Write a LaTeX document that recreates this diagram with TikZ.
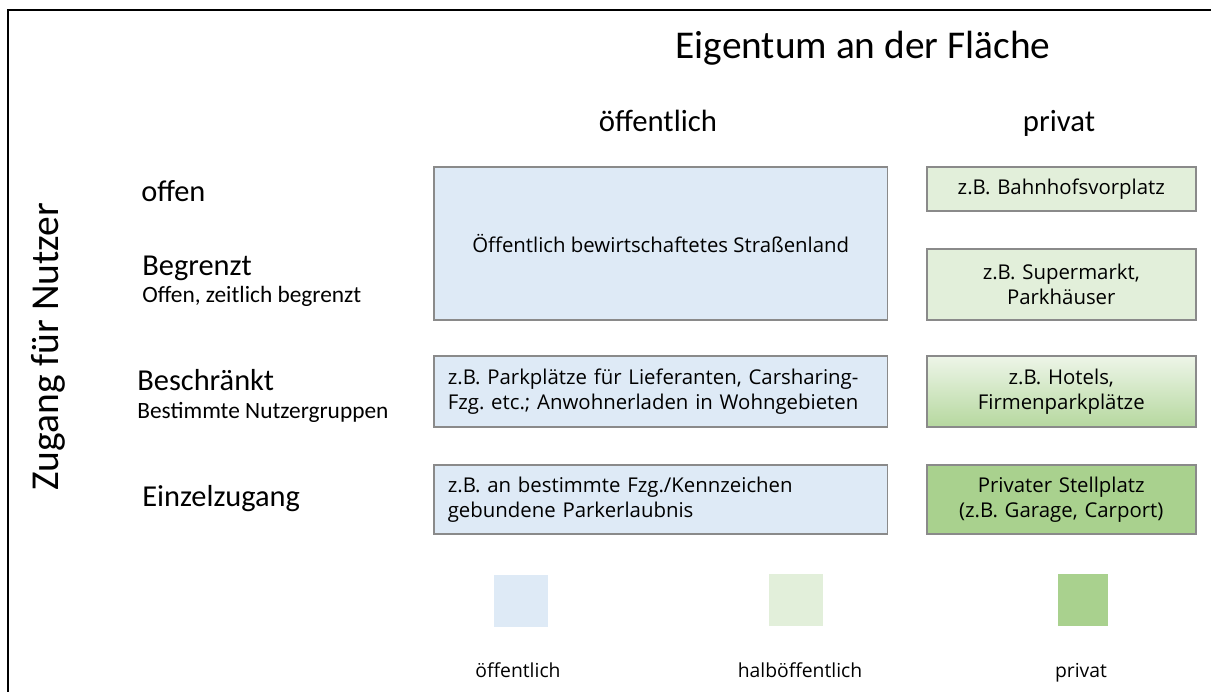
\documentclass[tikz,border=0pt]{standalone}
\usepackage{fontspec}
\setmainfont{Carlito}
\newfontfamily\boxfont{Open Sans}
\usetikzlibrary{positioning}

\definecolor{pubblue}{HTML}{DEEAF6}
\definecolor{halbgreen}{HTML}{E2EFDA}
\definecolor{privgreen}{HTML}{A9D18E}
\definecolor{boxline}{HTML}{8A8A8A}

\begin{document}
\frenchspacing
\begin{tikzpicture}[x=0.02cm,y=-0.02cm,
    feld/.style={draw=boxline,line width=0.9pt,anchor=north west,inner ysep=0pt,font=\boxfont\fontsize{11.6}{14.2}\selectfont},
    pubfeld/.style={feld,fill=pubblue,text width=8.52cm,inner xsep=0.28cm,align=left},
    privfeld/.style={feld,text width=5.18cm,inner xsep=0.1cm,align=center},
    zeile/.style={anchor=base west,inner sep=0pt,font=\fontsize{17.3}{20}\selectfont},
    unterzeile/.style={anchor=base west,inner sep=0pt,font=\fontsize{13.3}{15}\selectfont},
    kopf/.style={anchor=base,inner sep=0pt,font=\fontsize{17.5}{20}\selectfont},
    legsq/.style={minimum width=1.08cm,minimum height=1.04cm,inner sep=0pt},
    legtxt/.style={anchor=base,inner sep=0pt,font=\boxfont\fontsize{11}{13}\selectfont}]
    \useasboundingbox (0,0) rectangle (1211,692);
    \coordinate (FU) at (8,692);
    \coordinate (FL) at (8,10);
    \coordinate (FR) at (1211,10);
    \draw[line width=1.1pt] (FU) -- (FL) -- (FR);
    % headings
    \node[kopf,font=\fontsize{22.4}{26}\selectfont] (eigentum) at (863,59) {Eigentum an der Fläche};
    \node[kopf] (hoeff) at (658,132) {öffentlich};
    \node[kopf] (hpriv) at (1059,132) {privat};
    \node[anchor=base,inner sep=0pt,rotate=90,font=\fontsize{22.5}{26}\selectfont] (zugang) at (58,347) {Zugang für Nutzer};
    % rows
    \node[zeile] (offen) at (141,202) {offen};
    \node[zeile] (begrenzt) at (142,276) {Begrenzt};
    \node[unterzeile] (begrenztsub) at (142,303) {Offen, zeitlich begrenzt};
    \node[zeile] (beschraenkt) at (137,391) {Beschränkt};
    \node[unterzeile] (beschraenktsub) at (137,419) {Bestimmte Nutzergruppen};
    \node[zeile] (einzel) at (142,507) {Einzelzugang};
    % oeffentlich
    \node[feld,fill=pubblue,minimum width=9.08cm,minimum height=3.06cm,align=center] (strasse) at (433,166)
      {Öffentlich bewirtschaftetes Straßenland};
    \node[pubfeld,minimum height=1.42cm] (liefer) at (433,355)
      {z.B. Parkplätze für Lieferanten, Carsharing-\\Fzg. etc.; Anwohnerladen in Wohngebieten};
    \node[pubfeld,minimum height=1.38cm] (kennz) at (433,464)
      {z.B. an bestimmte Fzg./Kennzeichen\\gebundene Parkerlaubnis};
    % privat
    \node[privfeld,fill=halbgreen,minimum height=0.88cm] (bahnhof) at (926,166) {z.B. Bahnhofsvorplatz};
    \node[privfeld,fill=halbgreen,minimum height=1.42cm] (markt) at (926,248) {z.B. Supermarkt,\\Parkhäuser};
    \node[privfeld,top color=halbgreen!60!white,bottom color=privgreen!85!white,minimum height=1.42cm] (hotel) at (926,355)
      {z.B. Hotels,\\Firmenparkplätze};
    \node[privfeld,fill=privgreen,minimum height=1.38cm] (stellplatz) at (926,464)
      {Privater Stellplatz\\(z.B. Garage, Carport)};
    % legend
    \node[legsq,fill=pubblue] (legpub) at (521,601) {};
    \node[legsq,fill=halbgreen] (leghalb) at (796,600) {};
    \node[legsq,fill=privgreen,minimum width=1.0cm] (legpriv) at (1083,600) {};
    \node[legtxt] (legpubtxt) at (518,677) {öffentlich};
    \node[legtxt] (leghalbtxt) at (800,677) {halböffentlich};
    \node[legtxt] (legprivtxt) at (1081,677) {privat};
\end{tikzpicture}
\end{document}
